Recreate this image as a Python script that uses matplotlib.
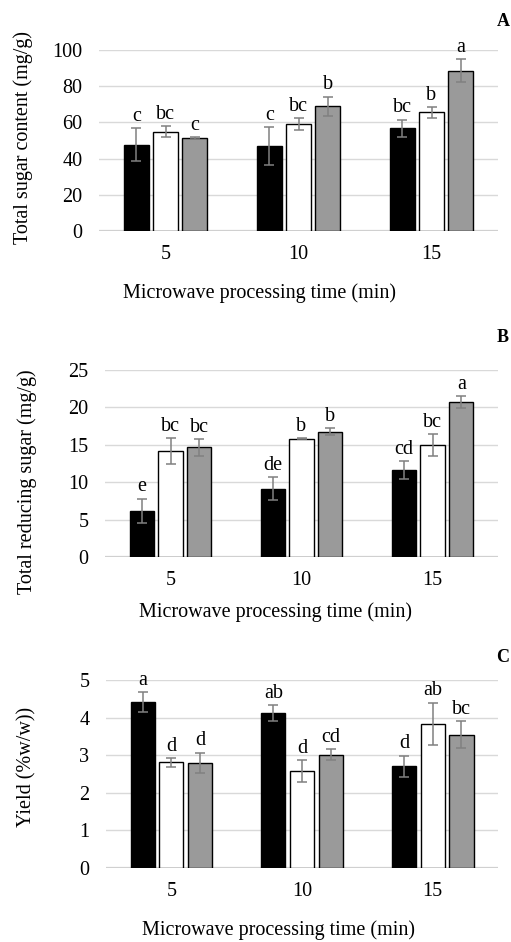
import matplotlib
matplotlib.use("Agg")
import matplotlib.pyplot as plt
import numpy as np

plt.rcParams['font.family'] = ['Liberation Serif', 'DejaVu Serif']

times = ["5", "10", "15"]

# Panel A: total sugar content (mg/g)
sugar_black = [47.7, 46.8, 56.7]
sugar_white = [54.9, 59.1, 65.7]
sugar_gray = [51.2, 68.9, 88.6]
sugar_black_err = [9.3, 10.4, 4.9]
sugar_white_err = [3.0, 3.2, 3.0]
sugar_gray_err = [0.5, 5.4, 6.2]
sugar_letters = [["c", "c", "bc"], ["bc", "bc", "b"], ["c", "b", "a"]]

# Panel B: total reducing sugar (mg/g)
red_black = [6.15, 9.14, 11.63]
red_white = [14.17, 15.82, 14.93]
red_gray = [14.66, 16.76, 20.77]
red_black_err = [1.67, 1.5, 1.25]
red_white_err = [1.78, 0.05, 1.45]
red_gray_err = [1.16, 0.5, 0.8]
red_letters = [["e", "de", "cd"], ["bc", "b", "bc"], ["bc", "b", "a"]]

# Panel C: yield (%w/w)
yield_black = [4.42, 4.12, 2.70]
yield_white = [2.81, 2.58, 3.83]
yield_gray = [2.80, 3.01, 3.55]
yield_black_err = [0.26, 0.21, 0.29]
yield_white_err = [0.12, 0.28, 0.57]
yield_gray_err = [0.27, 0.15, 0.35]
yield_letters = [["a", "ab", "d"], ["d", "d", "ab"], ["d", "cd", "bc"]]

fig = plt.figure(figsize=(5.11, 9.42), dpi=100)

W, H = 511, 942
FS = 14.5

def axes_px(x0, x1, ytop, ybot):
    return fig.add_axes([x0 / W, 1 - ybot / H, (x1 - x0) / W, (ybot - ytop) / H])

panels = [
    dict(box=(99, 498, 50, 231), ylim=100, yticks=[0, 20, 40, 60, 80, 100],
         vals=[sugar_black, sugar_white, sugar_gray],
         errs=[sugar_black_err, sugar_white_err, sugar_gray_err],
         letters=sugar_letters, ylabel="Total sugar content (mg/g)",
         ylab_xy=(23, 137), xlab_xy=(259, 293), tag="A", tag_xy=(503, 22)),
    dict(box=(105, 498, 370, 557), ylim=25, yticks=[0, 5, 10, 15, 20, 25],
         vals=[red_black, red_white, red_gray],
         errs=[red_black_err, red_white_err, red_gray_err],
         letters=red_letters, ylabel="Total reducing sugar (mg/g)",
         ylab_xy=(27, 482), xlab_xy=(275, 612), tag="B", tag_xy=(503, 338)),
    dict(box=(106, 498, 680, 868), ylim=5, yticks=[0, 1, 2, 3, 4, 5],
         vals=[yield_black, yield_white, yield_gray],
         errs=[yield_black_err, yield_white_err, yield_gray_err],
         letters=yield_letters, ylabel="Yield (%w/w))",
         ylab_xy=(27, 767), xlab_xy=(278, 930), tag="C", tag_xy=(503, 657)),
]

colors = ["black", "white", "#9a9a9a"]
offsets = [-0.22, 0.0, 0.22]
bw = 0.185
x = np.arange(len(times))

for p in panels:
    ax = axes_px(*p["box"])
    ax.set_xlim(-0.5, 2.5)
    ax.set_ylim(0, p["ylim"])
    ax.set_yticks(p["yticks"])
    ax.set_xticks(x)
    ax.set_xticklabels(times)
    for s in ax.spines.values():
        s.set_visible(False)
    ax.tick_params(axis='both', length=0, labelsize=FS)
    ax.tick_params(axis='y', pad=12)
    ax.tick_params(axis='x', pad=10)
    ax.grid(axis='y', color='#d9d9d9', linewidth=1.0)
    ax.set_axisbelow(True)
    ax.axhline(0, color='#d0d0d0', linewidth=1.6, zorder=1)
    for i in range(3):
        xs = x + offsets[i]
        ax.bar(xs, p["vals"][i], width=bw, color=colors[i], edgecolor='black',
               linewidth=1.0, zorder=2)
        ax.errorbar(xs, p["vals"][i], yerr=p["errs"][i], fmt='none',
                    ecolor='#808080', elinewidth=1.1, capsize=3.5, capthick=1.1,
                    zorder=3)
        for j in range(3):
            top = p["vals"][i][j] + p["errs"][i][j]
            ax.annotate(p["letters"][i][j], (xs[j], top), xytext=(0, 1.5),
                        textcoords='offset points', ha='center', va='bottom',
                        fontsize=FS)
    fig.text(p["ylab_xy"][0] / W, 1 - p["ylab_xy"][1] / H, p["ylabel"],
             rotation=90, ha='center', va='center', fontsize=FS)
    fig.text(p["xlab_xy"][0] / W, 1 - p["xlab_xy"][1] / H,
             "Microwave processing time (min)", ha='center', va='center',
             fontsize=FS)
    fig.text(p["tag_xy"][0] / W, 1 - p["tag_xy"][1] / H, p["tag"],
             ha='center', va='center', fontsize=13, fontweight='bold')

fig.savefig("out.png", dpi=100)
